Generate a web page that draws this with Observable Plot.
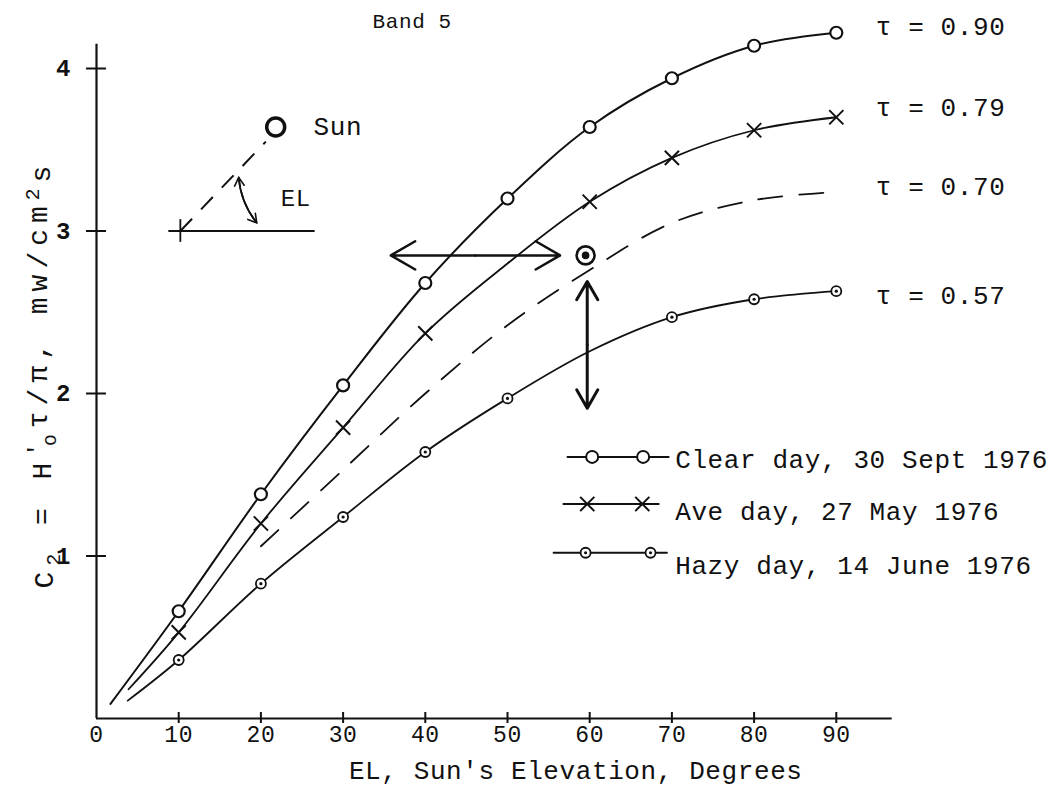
<!DOCTYPE html>
<html><head><meta charset="utf-8">
<script src="https://cdn.jsdelivr.net/npm/d3@7"></script>
<script src="https://cdn.jsdelivr.net/npm/@observablehq/plot@0.6"></script>
<style>html,body{margin:0;padding:0;background:#fff}svg{display:block}svg text{letter-spacing:0.6px}</style>
</head><body><div id="chart"></div>
<script>
// ---- data ----
const clearEl = [1.7, 10, 20, 30, 40, 50, 60, 70, 80, 90];
const clearC2 = [0.09, 0.66, 1.38, 2.05, 2.68, 3.20, 3.64, 3.94, 4.14, 4.22];
const aveEl   = [3.9, 10, 20, 30, 40, 50, 60, 70, 80, 90];
const aveC2   = [0.18, 0.53, 1.20, 1.79, 2.37, 2.80, 3.18, 3.45, 3.62, 3.70];
const hazyEl  = [3.8, 10, 20, 30, 40, 50, 60, 70, 80, 90];
const hazyC2  = [0.11, 0.36, 0.83, 1.24, 1.64, 1.97, 2.26, 2.47, 2.58, 2.63];
const tau70El = [20, 30, 40, 50, 60, 70, 80, 90];
const tau70C2 = [1.06, 1.53, 2.00, 2.42, 2.76, 3.05, 3.19, 3.24];
const clearMarked = [10, 20, 30, 40, 50, 60, 70, 80, 90];
const aveMarked   = [10, 20, 30, 40, 60, 70, 80, 90];
const hazyMarked  = [10, 20, 30, 40, 50, 70, 80, 90];
const targetPoint = [{el: 59.5, c2: 2.85}];
const xTicks = [0, 10, 20, 30, 40, 50, 60, 70, 80, 90];
const xTickLabels = ["0", "10", "20", "30", "40", "50", "60", "70", "80", "90"];
const yTicks = [1, 2, 3, 4];
const tauLabels = ["τ = 0.90", "τ = 0.79", "τ = 0.70", "τ = 0.57"];
const legendLabels = ["Clear day, 30 Sept 1976", "Ave day, 27 May 1976", "Hazy day, 14 June 1976"];
const titleText = "Band 5";
const xTitle = "EL, Sun's Elevation, Degrees";
const yTitle = "C2 = H'oτ/π, mw/cm2s";

const rows = (xs, ys) => xs.map((e, i) => ({el: e, c2: ys[i]}));
const clear = rows(clearEl, clearC2);
const ave = rows(aveEl, aveC2);
const hazy = rows(hazyEl, hazyC2);
const tau70 = rows(tau70El, tau70C2);
const pick = (data, marked) => data.filter(d => marked.includes(d.el));

const F = "Liberation Mono, DejaVu Sans Mono, monospace";
const ink = "#111";
const line = {x: "el", y: "c2", stroke: ink, strokeWidth: 2, curve: "catmull-rom"};

const last = a => a[a.length - 1];
const tauY = [last(clearC2) + 0.04, last(aveC2) + 0.06, last(tau70C2) + 0.03, last(hazyC2) - 0.03];

const chart = Plot.plot({
  width: 1058, height: 796,
  marginLeft: 96, marginRight: 140, marginTop: 3, marginBottom: 78,
  x: {domain: [0, 100], axis: null},
  y: {domain: [0, 4.4], axis: null},
  style: {fontFamily: F, color: ink, background: "#fff", overflow: "visible"},
  marks: [
    // axes
    Plot.ruleY([0], {x1: 0, x2: 96.8, stroke: ink, strokeWidth: 2.2}),
    Plot.ruleX([0], {y1: 0, y2: 4.15, stroke: ink, strokeWidth: 2.2}),
    Plot.ruleX(xTicks.slice(1), {x: d => d, y1: 0, y2: 0, insetTop: -6, insetBottom: -5, stroke: ink, strokeWidth: 2}),
    Plot.ruleY(yTicks, {y: d => d, x1: 0, x2: 0, insetLeft: -10, insetRight: -10, stroke: ink, strokeWidth: 2}),
    Plot.text(xTicks, {x: d => d, y: 0, dy: 16, text: (d, i) => xTickLabels[i], fontSize: 23, fill: ink}),
    Plot.text(yTicks, {x: 0, y: d => d, dx: -33, text: d => String(d), fontSize: 24, fontWeight: "bold", fill: ink}),
    Plot.text([xTitle], {x: 58.3, frameAnchor: "bottom", dy: 60, fontSize: 26, fill: ink}),
    Plot.text([yTitle], {frameAnchor: "left", textAnchor: "middle", y: 2.12, dx: -52, rotate: -90, fontSize: 28, fill: ink, className: "ytitle"}),
    Plot.text([titleText], {x: 38.4, frameAnchor: "top", dy: 10, fontSize: 21, fill: ink}),

    // curves
    Plot.line(clear, line),
    Plot.line(ave, {...line, strokeWidth: 1.8}),
    Plot.line(hazy, {...line, strokeWidth: 1.8}),
    Plot.line(tau70, {...line, strokeWidth: 1.8, strokeDasharray: "24,17"}),

    // markers
    Plot.dot(pick(clear, clearMarked), {x: "el", y: "c2", r: 6, fill: "#fff", stroke: ink, strokeWidth: 2.2}),
    Plot.dot(pick(ave, aveMarked), {x: "el", y: "c2", symbol: "times", r: 6.5, stroke: ink, strokeWidth: 2}),
    Plot.dot(pick(hazy, hazyMarked), {x: "el", y: "c2", r: 5, fill: "#fff", stroke: ink, strokeWidth: 1.8}),
    Plot.dot(pick(hazy, hazyMarked), {x: "el", y: "c2", r: 1.6, fill: ink}),

    // measured point and arrows
    Plot.arrow([0], {x1: 46.1, x2: 35.8, y1: 2.85, y2: 2.85, stroke: ink, strokeWidth: 2.5, headLength: 24}),
    Plot.arrow([0], {x1: 46.1, x2: 56.4, y1: 2.85, y2: 2.85, stroke: ink, strokeWidth: 2.5, headLength: 24}),
    Plot.arrow([0], {x1: 59.7, x2: 59.7, y1: 2.30, y2: 2.69, stroke: ink, strokeWidth: 3, headLength: 22}),
    Plot.arrow([0], {x1: 59.7, x2: 59.7, y1: 2.30, y2: 1.91, stroke: ink, strokeWidth: 3, headLength: 22}),
    Plot.dot(targetPoint, {x: "el", y: "c2", r: 9, fill: "#fff", stroke: ink, strokeWidth: 2.6}),
    Plot.dot(targetPoint, {x: "el", y: "c2", r: 3.8, fill: ink}),

    // tau labels
    Plot.text(tauLabels, {x: 94.8, y: (d, i) => tauY[i], text: d => d, textAnchor: "start", fontSize: 26, fill: ink}),

    // sun inset
    Plot.ruleY([3.0], {x1: 8.8, x2: 26.6, stroke: ink, strokeWidth: 1.8}),
    Plot.ruleX([10.2], {y1: 2.93, y2: 3.07, stroke: ink, strokeWidth: 1.8}),
    Plot.link([0], {x1: 10.2, y1: 3.0, x2: 20.6, y2: 3.55, stroke: ink, strokeWidth: 2, strokeDasharray: "17,13"}),
    Plot.dot([0], {x: 21.8, y: 3.64, r: 9, fill: "none", stroke: ink, strokeWidth: 3.5}),
    Plot.text(["Sun"], {x: 26.4, y: 3.64, textAnchor: "start", fontSize: 26, fill: ink}),
    Plot.text(["EL"], {x: 22.4, y: 3.2, textAnchor: "start", fontSize: 24, fill: ink}),
    Plot.arrow([0], {x1: 17.3, y1: 3.33, x2: 19.5, y2: 3.05, bend: -17, stroke: ink, strokeWidth: 1.6, headLength: 9}),
    Plot.arrow([0], {x1: 19.5, y1: 3.05, x2: 17.3, y2: 3.33, bend: 17, stroke: ink, strokeWidth: 1.6, headLength: 9}),

    // legend
    Plot.line([{el: 57.3, c2: 1.61}, {el: 69.6, c2: 1.61}], {x: "el", y: "c2", stroke: ink, strokeWidth: 2}),
    Plot.dot([60.3, 66.5], {x: d => d, y: 1.61, r: 6, fill: "#fff", stroke: ink, strokeWidth: 2}),
    Plot.line([{el: 56.8, c2: 1.32}, {el: 68.4, c2: 1.32}], {x: "el", y: "c2", stroke: ink, strokeWidth: 1.8}),
    Plot.dot([59.7, 66.4], {x: d => d, y: 1.32, symbol: "times", r: 6.5, stroke: ink, strokeWidth: 2}),
    Plot.line([{el: 55.6, c2: 1.02}, {el: 69.4, c2: 1.02}], {x: "el", y: "c2", stroke: ink, strokeWidth: 1.8}),
    Plot.dot([59.5, 67.4], {x: d => d, y: 1.02, r: 5, fill: "#fff", stroke: ink, strokeWidth: 1.8}),
    Plot.dot([59.5, 67.4], {x: d => d, y: 1.02, r: 1.6, fill: ink}),
    Plot.text(legendLabels, {x: 70.4, y: (d, i) => [1.59, 1.27, 0.94][i], text: d => d, textAnchor: "start", fontSize: 26, fill: ink})
  ]
});
document.getElementById("chart").appendChild(chart);

// typeset the y title with sub/superscripts (same text, real tspans)
const yt = chart.querySelector(".ytitle text");
if (yt) {
  yt.textContent = "";
  yt.style.letterSpacing = "6px";
  const parts = [
    ["C", 0], ["2", 0.35, "70%"], [" = H", -0.35], ["'", -0.35, "80%"], ["o", 0.7, "70%", "-0.45em"],
    ["τ/π, mw/cm", -0.35], ["2", -0.4, "70%"], ["s", 0.4]
  ];
  for (const [t, dy, fs, dx] of parts) {
    const s = document.createElementNS("http://www.w3.org/2000/svg", "tspan");
    s.textContent = t;
    if (dy) s.setAttribute("dy", dy + "em");
    if (fs) s.setAttribute("font-size", fs);
    if (dx) s.setAttribute("dx", dx);
    yt.appendChild(s);
  }
}
</script>
</body></html>
